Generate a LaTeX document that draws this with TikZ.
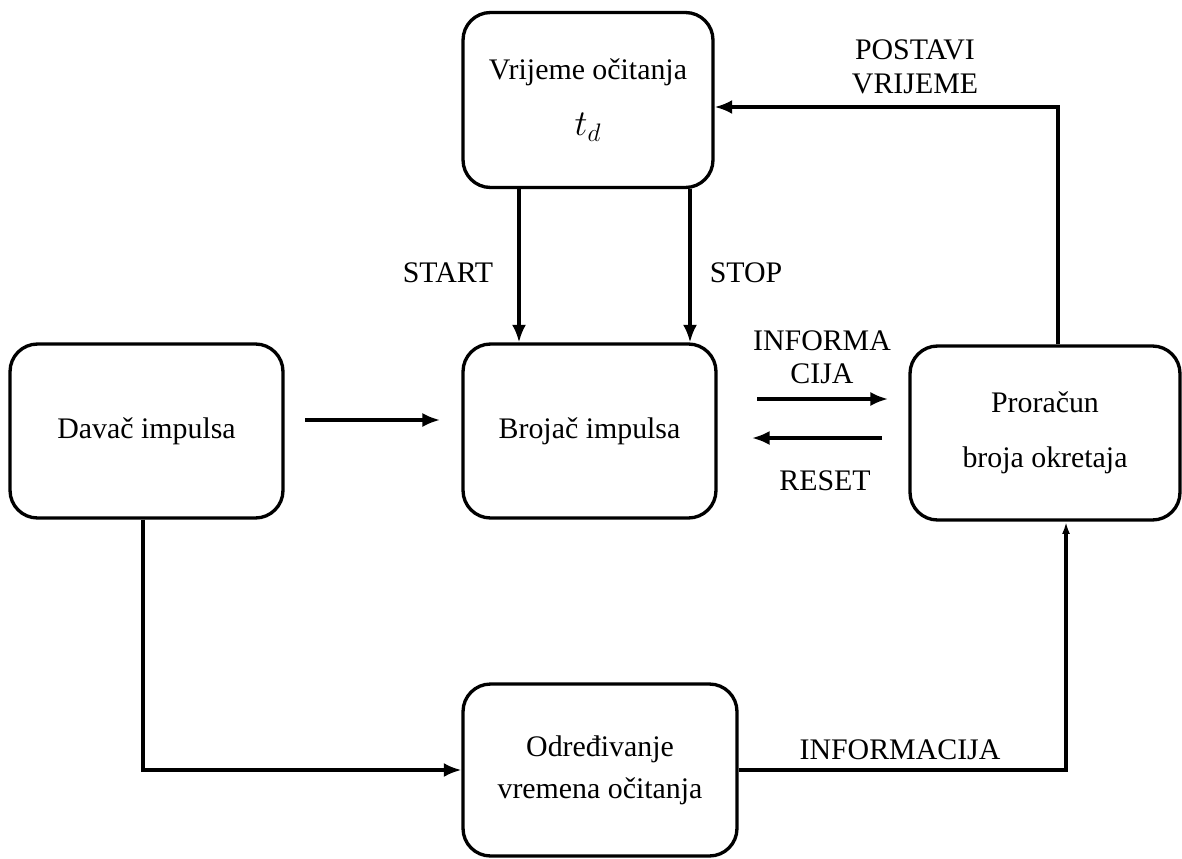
\documentclass[tikz,border=0pt]{standalone}
\usepackage{fontspec}
\setmainfont{Liberation Serif}
\usetikzlibrary{arrows.meta}
\begin{document}
\begin{tikzpicture}[x=0.02cm,y=-0.02cm,
  box/.style={draw,line width=1.9pt,rounded corners=0.55cm,align=center,inner sep=0pt},
  conn/.style={line width=1.8pt,-{Latex[length=10pt,width=8pt]}},
  lbl/.style={inner sep=0pt,align=center},
  every node/.style={font=\fontsize{17}{20}\selectfont}]
\useasboundingbox (0,0) rectangle (1182,858);
\node[box,minimum width=5cm,minimum height=3.5cm] (vr) at (588,100) {Vrijeme očitanja\\[12pt]{\fontsize{20}{20}\selectfont$t_d$}};
\node[box,minimum width=5.46cm,minimum height=3.48cm] (dav) at (146.5,431) {Davač impulsa};
\node[box,minimum width=5.06cm,minimum height=3.48cm] (bro) at (589.5,431) {Brojač impulsa};
\node[box,minimum width=5.4cm,minimum height=3.48cm] (pro) at (1045,433) {Proračun\\[11pt]broja okretaja};
\node[box,minimum width=5.48cm,minimum height=3.44cm] (odr) at (600,770) {Određivanje\\[4pt]vremena očitanja};

\coordinate (davR) at (305,420);
\coordinate (broL) at (440,420);
\coordinate (infA) at (757,399);
\coordinate (infB) at (888,399);
\coordinate (resA) at (882,438);
\coordinate (resB) at (752,438);

\draw[conn] (vr.south -| 519,0) -- (bro.north -| 519,0);
\draw[conn] (vr.south -| 690,0) -- (bro.north -| 690,0);
\draw[conn] (davR) -- (broL);
\draw[conn] (infA) -- (infB);
\draw[conn] (resA) -- (resB);
\draw[conn] (pro.north -| 1058,0) -- (1058,107) -- (vr.east |- 0,107);
\draw[conn] (dav.south -| 143,0) -- (143,770) -- (odr.west |- 0,770);
\draw[line width=1.8pt,-{Latex[length=7pt,width=4.5pt]}] (odr.east |- 0,770) -- (1066,770) -- (pro.south -| 1066,0);

\node[lbl] (lstart) at (448,273) {START};
\node[lbl] (lstop) at (746,273) {STOP};
\node[lbl] (linf) at (822,357) {INFORMA\\[-1pt]CIJA};
\node[lbl] (lres) at (825,481) {RESET};
\node[lbl] (lpos) at (915,67) {POSTAVI\\[-1pt]VRIJEME};
\node[lbl] (linf2) at (900,750) {INFORMACIJA};
\end{tikzpicture}
\end{document}
